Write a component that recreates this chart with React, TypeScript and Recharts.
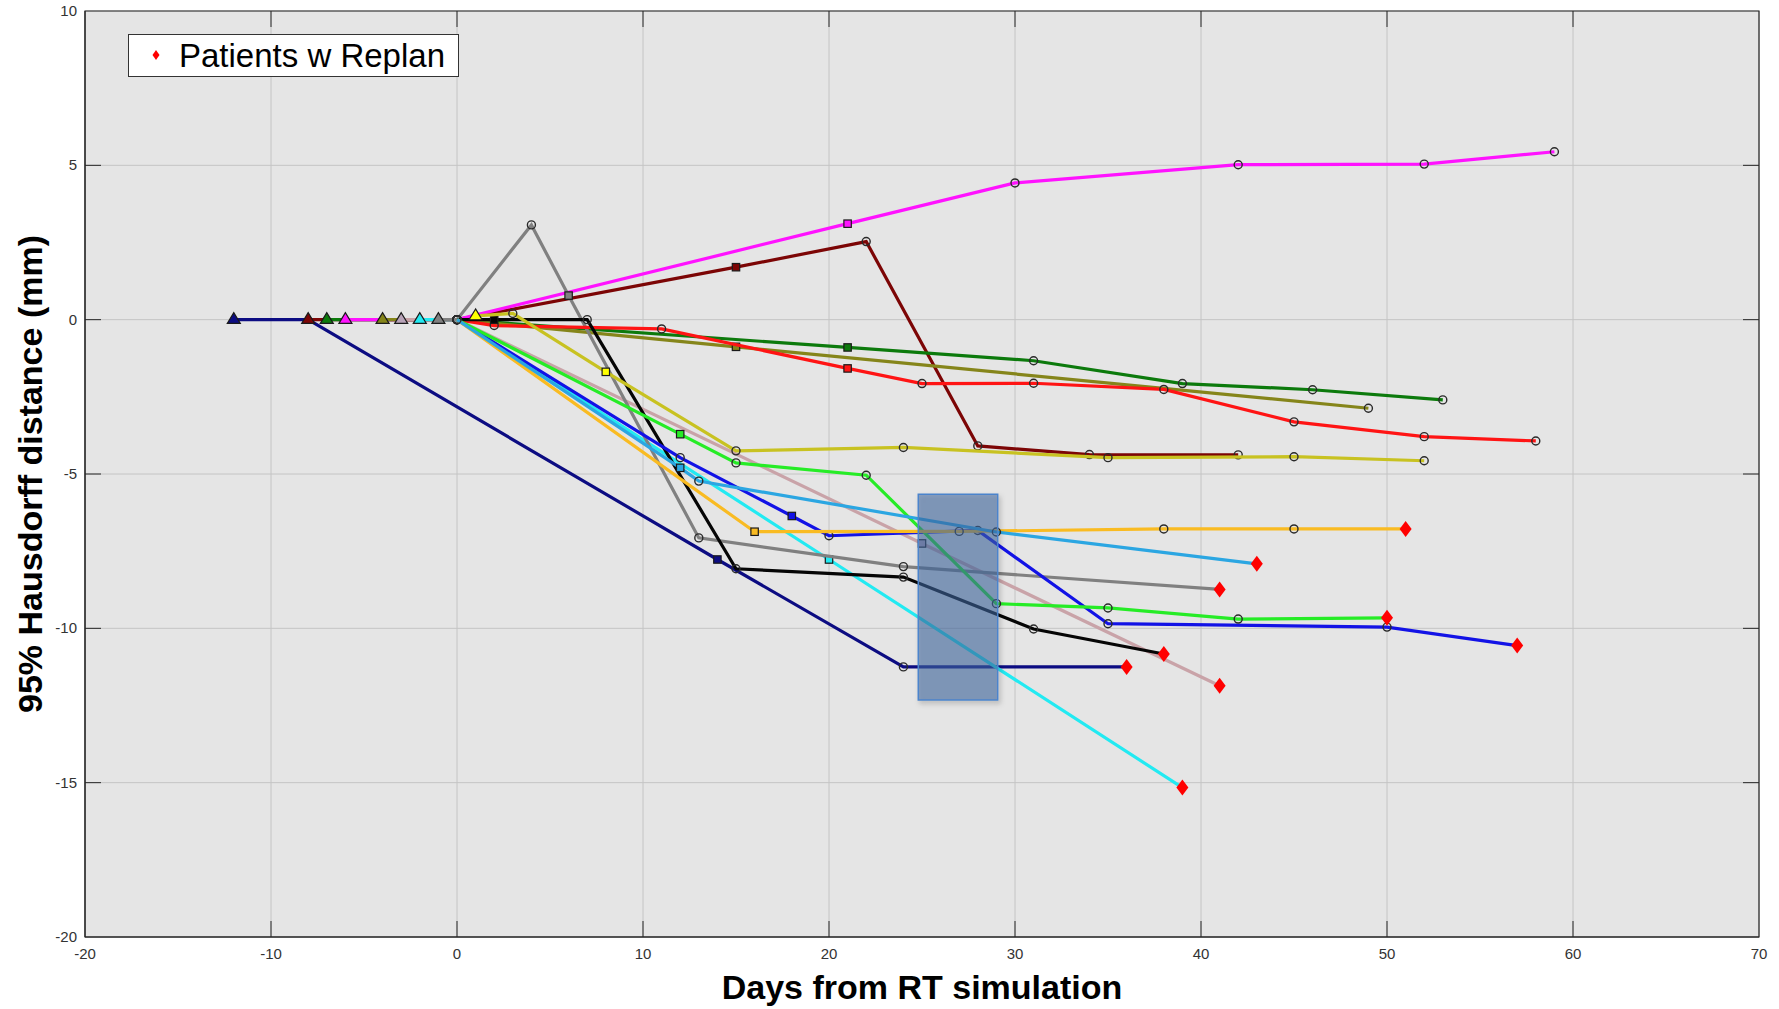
import React from 'react';
import { ScatterChart, Scatter, XAxis, YAxis, CartesianGrid, ReferenceArea, Legend, Label } from 'recharts';

type Pt = { x: number; y: number; k: string };

const xTicks = [-20, -10, 0, 10, 20, 30, 40, 50, 60, 70];
const yTicks = [-20, -15, -10, -5, 0, 5, 10];

// k: b = baseline (triangle), c = circle, s = square, r = replan (diamond), n = no marker
const navyPts: Pt[] = [
  { x: -12, y: 0, k: 'b' }, { x: -8, y: 0, k: 'n' }, { x: 14, y: -7.77, k: 's' },
  { x: 24, y: -11.25, k: 'c' }, { x: 36, y: -11.25, k: 'r' },
];
const maroonPts: Pt[] = [
  { x: -8, y: 0, k: 'b' }, { x: 0, y: 0, k: 'c' }, { x: 15, y: 1.7, k: 's' }, { x: 22, y: 2.53, k: 'c' },
  { x: 28, y: -4.09, k: 'c' }, { x: 34, y: -4.37, k: 'c' }, { x: 42, y: -4.38, k: 'c' },
];
const greenPts: Pt[] = [
  { x: -7, y: 0, k: 'b' }, { x: 0, y: 0, k: 'c' }, { x: 21, y: -0.9, k: 's' }, { x: 31, y: -1.33, k: 'c' },
  { x: 39, y: -2.07, k: 'c' }, { x: 46, y: -2.27, k: 'c' }, { x: 53, y: -2.6, k: 'c' },
];
const magentaPts: Pt[] = [
  { x: -6, y: 0, k: 'b' }, { x: 0, y: 0, k: 'c' }, { x: 21, y: 3.11, k: 's' }, { x: 30, y: 4.43, k: 'c' },
  { x: 42, y: 5.02, k: 'c' }, { x: 52, y: 5.04, k: 'c' }, { x: 59, y: 5.44, k: 'c' },
];
const olivePts: Pt[] = [
  { x: -4, y: 0, k: 'b' }, { x: 0, y: 0, k: 'c' }, { x: 15, y: -0.88, k: 's' }, { x: 49, y: -2.87, k: 'c' },
];
const pinkPts: Pt[] = [
  { x: -3, y: 0, k: 'b' }, { x: 0, y: 0, k: 'c' }, { x: 25, y: -7.25, k: 's' }, { x: 41, y: -11.86, k: 'r' },
];
const cyanPts: Pt[] = [
  { x: -2, y: 0, k: 'b' }, { x: 0, y: 0, k: 'c' }, { x: 20, y: -7.77, k: 's' }, { x: 39, y: -15.16, k: 'r' },
];
const grayPts: Pt[] = [
  { x: -1, y: 0, k: 'b' }, { x: 0, y: 0, k: 'c' }, { x: 4, y: 3.07, k: 'c' }, { x: 6, y: 0.78, k: 's' },
  { x: 13, y: -7.07, k: 'c' }, { x: 24, y: -8.0, k: 'c' }, { x: 41, y: -8.74, k: 'r' },
];
const redPts: Pt[] = [
  { x: 0, y: 0, k: 'c' }, { x: 2, y: -0.19, k: 'c' }, { x: 11, y: -0.3, k: 'c' }, { x: 21, y: -1.58, k: 's' },
  { x: 25, y: -2.07, k: 'c' }, { x: 31, y: -2.06, k: 'c' }, { x: 38, y: -2.26, k: 'c' },
  { x: 45, y: -3.31, k: 'c' }, { x: 52, y: -3.79, k: 'c' }, { x: 58, y: -3.93, k: 'c' },
];
const blackPts: Pt[] = [
  { x: 0, y: 0, k: 'c' }, { x: 2, y: 0, k: 's' }, { x: 7, y: 0, k: 'c' }, { x: 15, y: -8.07, k: 'c' },
  { x: 24, y: -8.34, k: 'c' }, { x: 31, y: -10.02, k: 'c' }, { x: 38, y: -10.83, k: 'r' },
];
const bluePts: Pt[] = [
  { x: 0, y: 0, k: 'c' }, { x: 12, y: -4.47, k: 'c' }, { x: 18, y: -6.36, k: 's' }, { x: 20, y: -7.0, k: 'c' },
  { x: 28, y: -6.83, k: 'c' }, { x: 35, y: -9.85, k: 'c' }, { x: 50, y: -9.96, k: 'c' }, { x: 57, y: -10.56, k: 'r' },
];
const limePts: Pt[] = [
  { x: 0, y: 0, k: 'c' }, { x: 12, y: -3.71, k: 's' }, { x: 15, y: -4.64, k: 'c' }, { x: 22, y: -5.04, k: 'c' },
  { x: 29, y: -9.2, k: 'c' }, { x: 35, y: -9.34, k: 'c' }, { x: 42, y: -9.7, k: 'c' }, { x: 50, y: -9.66, k: 'r' },
];
const orangePts: Pt[] = [
  { x: 0, y: 0, k: 'c' }, { x: 16, y: -6.87, k: 's' }, { x: 27, y: -6.86, k: 'c' }, { x: 38, y: -6.78, k: 'c' },
  { x: 45, y: -6.78, k: 'c' }, { x: 51, y: -6.78, k: 'r' },
];
const skyPts: Pt[] = [
  { x: 0, y: 0, k: 'c' }, { x: 12, y: -4.8, k: 's' }, { x: 13, y: -5.23, k: 'c' }, { x: 29, y: -6.88, k: 'c' },
  { x: 43, y: -7.91, k: 'r' },
];
const yellowPts: Pt[] = [
  { x: 1, y: 0.12, k: 'b' }, { x: 3, y: 0.2, k: 'c' }, { x: 8, y: -1.69, k: 's' }, { x: 15, y: -4.25, k: 'c' },
  { x: 24, y: -4.14, k: 'c' }, { x: 35, y: -4.47, k: 'c' }, { x: 45, y: -4.44, k: 'c' }, { x: 52, y: -4.57, k: 'c' },
];

// highlighted window (days / mm)
const boxDays = [24.8, 29.07];
const boxMm = [-12.32, -5.66];

const series = [
  { id: 'navy', data: navyPts, color: '#0c0c82', mark: '#0c0c82' },
  { id: 'maroon', data: maroonPts, color: '#7c0505', mark: '#7c0505' },
  { id: 'green', data: greenPts, color: '#0c7a0c', mark: '#0c7a0c' },
  { id: 'magenta', data: magentaPts, color: '#ff12ff', mark: '#ff12ff' },
  { id: 'olive', data: olivePts, color: '#85851a', mark: '#85851a' },
  { id: 'pink', data: pinkPts, color: '#c9a3a8', mark: '#b8a3b8' },
  { id: 'cyan', data: cyanPts, color: '#22eaf2', mark: '#22eaf2' },
  { id: 'gray', data: grayPts, color: '#808080', mark: '#808080' },
  { id: 'red', data: redPts, color: '#ff1414', mark: '#ff1414' },
  { id: 'black', data: blackPts, color: '#050505', mark: '#050505' },
  { id: 'blue', data: bluePts, color: '#1212e6', mark: '#1212e6' },
  { id: 'lime', data: limePts, color: '#26ec26', mark: '#26ec26' },
  { id: 'orange', data: orangePts, color: '#f9bb22', mark: '#f9bb22' },
  { id: 'sky', data: skyPts, color: '#2ba6e2', mark: '#2ba6e2' },
  { id: 'yellow', data: yellowPts, color: '#c8c221', mark: '#ffff00' },
];

const W = 1779;
const H = 1009;
const PLOT_LEFT = 85;
const PLOT_TOP = 11;
const PLOT_RIGHT = 1759;
const PLOT_BOTTOM = 937;
const TICK_LEN = 16;
const AXIS_COLOR = '#262626';
const FONT = '"Liberation Sans", Arial, Helvetica, sans-serif';

const makeShape = (mark: string) => (props: any) => {
  const { cx, cy } = props;
  const k = props.payload?.k ?? props.k;
  if (cx == null || cy == null) return <g />;
  if (k === 'b')
    return (
      <polygon
        points={`${cx},${cy - 7} ${cx - 6.5},${cy + 3.8} ${cx + 6.5},${cy + 3.8}`}
        fill={mark}
        stroke="#1a1a1a"
        strokeWidth={1.2}
      />
    );
  if (k === 's')
    return <rect x={cx - 3.7} y={cy - 3.7} width={7.4} height={7.4} fill={mark} stroke="#1a1a1a" strokeWidth={1.2} />;
  if (k === 'c') return <circle cx={cx} cy={cy} r={4} fill="none" stroke="#2a2a2a" strokeWidth={1.4} />;
  if (k === 'r')
    return <polygon points={`${cx},${cy - 8} ${cx + 6},${cy} ${cx},${cy + 8} ${cx - 6},${cy}`} fill="#ff0000" />;
  return <g />;
};

const XTick = (props: any) => {
  const { x, payload } = props;
  const v = payload.value;
  const edge = v === xTicks[0] || v === xTicks[xTicks.length - 1];
  return (
    <g>
      {!edge && <line x1={x} x2={x} y1={PLOT_BOTTOM} y2={PLOT_BOTTOM - TICK_LEN} stroke={AXIS_COLOR} />}
      {!edge && <line x1={x} x2={x} y1={PLOT_TOP} y2={PLOT_TOP + TICK_LEN} stroke={AXIS_COLOR} />}
      <text x={x} y={PLOT_BOTTOM + 22} textAnchor="middle" fontSize={15} fill="#333" fontFamily={FONT}>
        {v}
      </text>
    </g>
  );
};

const YTick = (props: any) => {
  const { y, payload } = props;
  const v = payload.value;
  const edge = v === yTicks[0] || v === yTicks[yTicks.length - 1];
  return (
    <g>
      {!edge && <line x1={PLOT_LEFT} x2={PLOT_LEFT + TICK_LEN} y1={y} y2={y} stroke={AXIS_COLOR} />}
      {!edge && <line x1={PLOT_RIGHT} x2={PLOT_RIGHT - TICK_LEN} y1={y} y2={y} stroke={AXIS_COLOR} />}
      <text x={PLOT_LEFT - 8} y={y + 5} textAnchor="end" fontSize={15} fill="#333" fontFamily={FONT}>
        {v}
      </text>
    </g>
  );
};

const LegendBox = () => (
  <div
    style={{
      width: 329,
      height: 41,
      border: '1px solid #333',
      background: '#fff',
      position: 'relative',
      fontFamily: FONT,
    }}
  >
    <svg style={{ position: 'absolute', left: 20, top: 10 }} width={14} height={20}>
      <polygon points="7,5 10.5,10 7,15 3.5,10" fill="#ff0000" />
    </svg>
    <span
      style={{ position: 'absolute', left: 50, top: 0, fontSize: 33, lineHeight: '41px', color: '#000', whiteSpace: 'nowrap' }}
    >
      Patients w Replan
    </span>
  </div>
);

export default function App() {
  return (
    <div style={{ position: 'absolute', left: 0, top: 0, width: W, height: H, background: '#fff', fontFamily: FONT }}>
      <svg width={0} height={0} style={{ position: 'absolute' }}>
        <defs>
          <filter id="boxShadow" x="-30%" y="-10%" width="160%" height="125%">
            <feDropShadow dx="2" dy="3" stdDeviation="2.5" floodColor="#000" floodOpacity="0.25" />
          </filter>
        </defs>
      </svg>
      <ScatterChart width={W} height={H} margin={{ top: PLOT_TOP, right: W - PLOT_RIGHT, bottom: 0, left: 0 }}>
        <CartesianGrid stroke="#c4c4c4" fill="#e5e5e5" fillOpacity={1} />
        <XAxis
          type="number"
          dataKey="x"
          domain={[xTicks[0], xTicks[xTicks.length - 1]]}
          ticks={xTicks}
          interval={0}
          height={H - PLOT_BOTTOM}
          axisLine={{ stroke: AXIS_COLOR }}
          tickLine={false}
          tick={<XTick />}
        >
          <Label
            value="Days from RT simulation"
            position="insideBottom"
            offset={10}
            style={{ fontSize: 34, fontWeight: 'bold', fill: '#000', fontFamily: FONT }}
          />
        </XAxis>
        <YAxis
          type="number"
          dataKey="y"
          domain={[yTicks[0], yTicks[yTicks.length - 1]]}
          ticks={yTicks}
          interval={0}
          width={PLOT_LEFT}
          axisLine={{ stroke: AXIS_COLOR }}
          tickLine={false}
          tick={<YTick />}
        >
          <Label
            value="95% Hausdorff distance (mm)"
            angle={-90}
            position="insideLeft"
            offset={30}
            style={{ fontSize: 34, fontWeight: 'bold', fill: '#000', textAnchor: 'middle', fontFamily: FONT }}
          />
        </YAxis>
        <ReferenceArea
          x1={xTicks[0]}
          x2={xTicks[xTicks.length - 1]}
          y1={yTicks[0]}
          y2={yTicks[yTicks.length - 1]}
          fill="none"
          stroke={AXIS_COLOR}
          strokeWidth={1.2}
        />
        {series.map((s) => (
          <Scatter
            key={s.id}
            name={s.id}
            data={s.data}
            fill={s.color}
            line={{ stroke: s.color, strokeWidth: 3.2 }}
            lineType="joint"
            shape={makeShape(s.mark)}
            isAnimationActive={false}
            legendType="none"
          />
        ))}
        <ReferenceArea
          x1={boxDays[0]}
          x2={boxDays[1]}
          y1={boxMm[0]}
          y2={boxMm[1]}
          fill="#3f67a0"
          fillOpacity={0.55}
          stroke="#4b84cc"
          strokeWidth={1.5}
          filter="url(#boxShadow)"
          zIndex={700}
        />
        <Legend
          layout="vertical"
          align="center"
          verticalAlign="middle"
          wrapperStyle={{ left: 128, top: 34, width: 'auto', height: 'auto' }}
          content={() => <LegendBox />}
        />
      </ScatterChart>
    </div>
  );
}
